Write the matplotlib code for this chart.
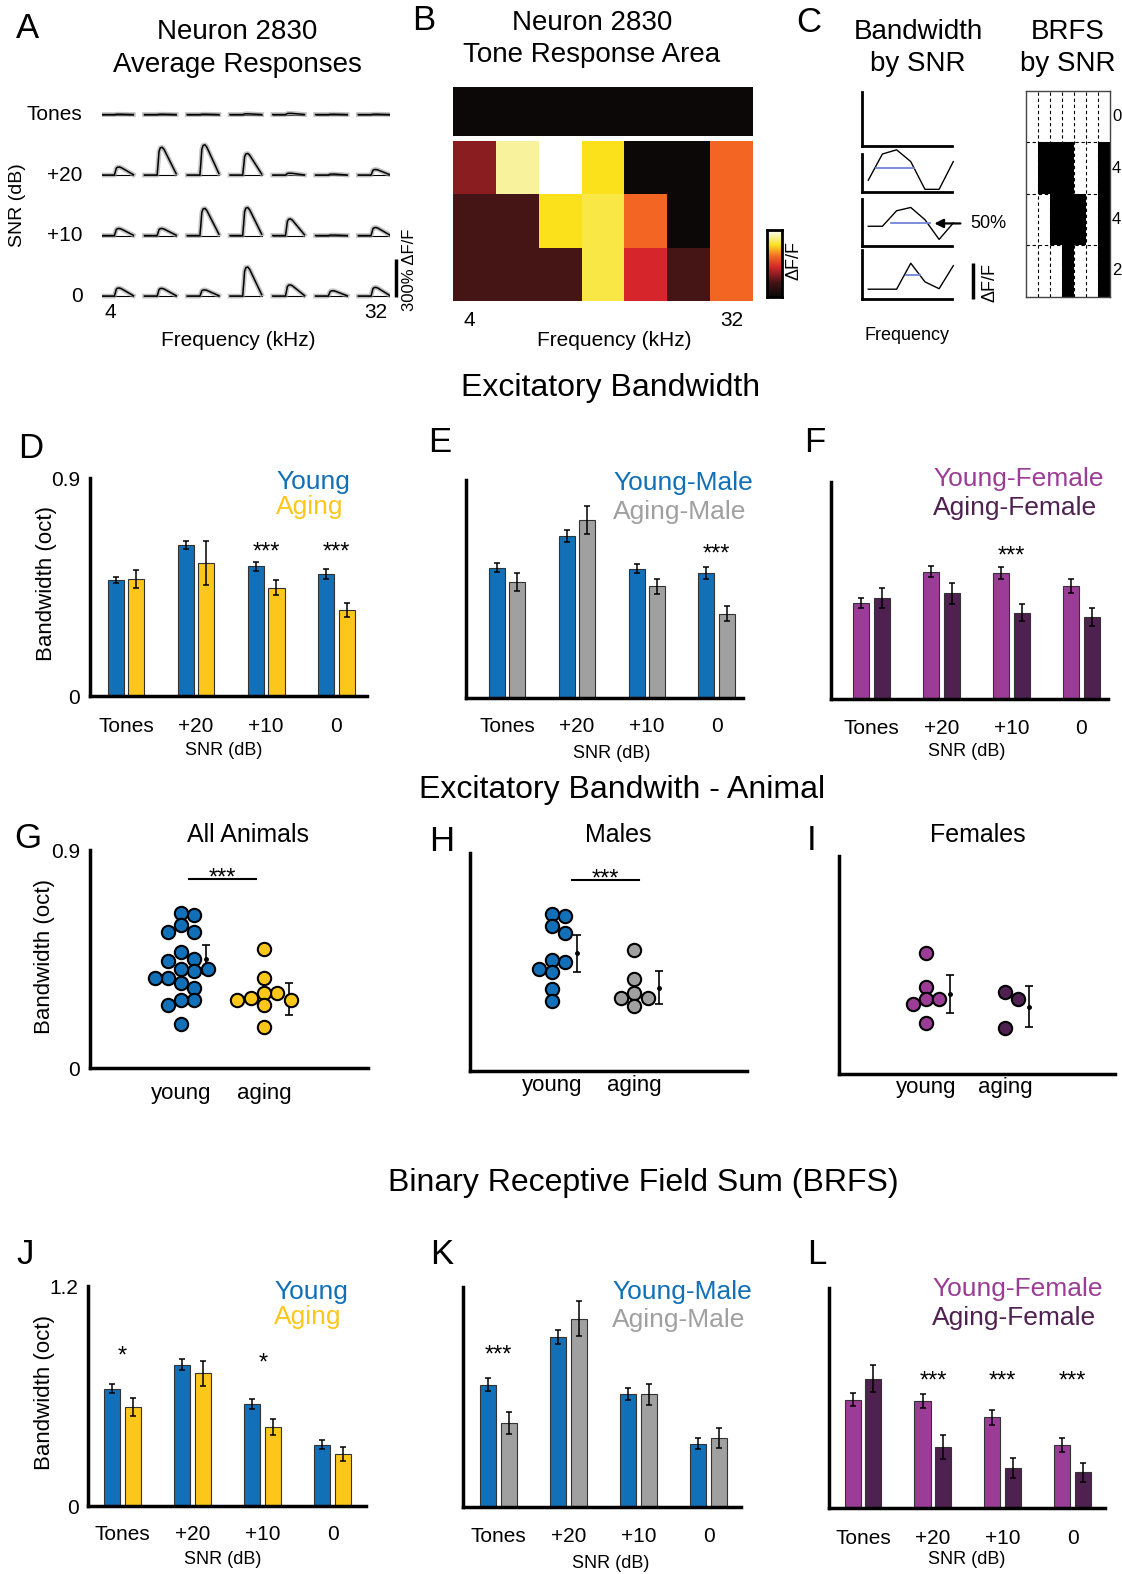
import numpy as np
import matplotlib
matplotlib.use("Agg")
from matplotlib import pyplot as plt
from matplotlib import transforms
from matplotlib.colors import LinearSegmentedColormap, ListedColormap
from matplotlib.lines import Line2D

plt.rcParams["font.family"] = ["Liberation Sans", "DejaVu Sans"]

# ---------------- data ----------------
snr_labels = ["Tones", "+20", "+10", "0"]

# A: peak of the average response (% dF/F), rows Tones/+20/+10/0, 7 frequencies
resp_peak = [
    [3, 3, 3, 6, 10, 3, 3],
    [65, 225, 245, 175, 15, 8, 45],
    [57, 57, 220, 227, 135, 4, 65],
    [65, 62, 50, 235, 90, 43, 70],
]
# shape of a response trace (time fraction, fraction of peak)
trace_t = [0, 0.4, 0.43, 0.46, 0.5, 0.56, 0.62, 1.0]
trace_shape = [0, 0, 0.4, 0.85, 0.98, 1.0, 0.92, 0.05]

# B: tone response area (normalised dF/F)
tra_tones = [0, 0, 0, 0, 0, 0, 0]
tra_snr = [
    [0.33, 0.9, 1.0, 0.78, 0.0, 0.0, 0.6],
    [0.22, 0.22, 0.78, 0.82, 0.6, 0.0, 0.6],
    [0.22, 0.22, 0.22, 0.82, 0.45, 0.22, 0.6],
]

# C: schematic tuning curves (+20, +10, 0) and 50% bandwidth lines
bw_curves = [
    [0.31, 1.0, 1.11, 0.8, 0.07, 0.07, 0.8],
    [0.42, 0.42, 0.75, 0.82, 0.56, 0.14, 0.49],
    [0.2, 0.2, 0.2, 0.73, 0.35, 0.21, 0.68],
]
bw_half = [(0.64, 0.52, 3.25), (0.48, 1.6, 4.35), (0.5, 2.64, 3.65)]
brfs_binary = [
    [0, 0, 0, 0, 0, 0, 0],
    [0, 1, 1, 1, 0, 0, 1],
    [0, 0, 1, 1, 1, 0, 1],
    [0, 0, 0, 1, 0, 0, 1],
]

# D-F: excitatory bandwidth (oct), mean and SEM
bw_young = [0.48, 0.622, 0.535, 0.505]
bw_young_err = [0.013, 0.017, 0.018, 0.02]
bw_aging = [0.483, 0.549, 0.447, 0.355]
bw_aging_err = [0.037, 0.09, 0.032, 0.029]
bw_ym = [0.537, 0.669, 0.534, 0.514]
bw_ym_err = [0.019, 0.024, 0.019, 0.025]
bw_am = [0.477, 0.734, 0.46, 0.348]
bw_am_err = [0.037, 0.058, 0.032, 0.032]
bw_yf = [0.398, 0.528, 0.521, 0.47]
bw_yf_err = [0.021, 0.024, 0.025, 0.029]
bw_af = [0.418, 0.437, 0.358, 0.339]
bw_af_err = [0.041, 0.043, 0.037, 0.037]

# G-I: bandwidth per animal
g_young = [0.63, 0.64, 0.59, 0.56, 0.56, 0.48, 0.44, 0.45, 0.41, 0.40,
           0.41, 0.37, 0.37, 0.35, 0.33, 0.28, 0.28, 0.26, 0.18]
g_aging = [0.49, 0.37, 0.31, 0.28, 0.28, 0.31, 0.29, 0.26, 0.17]
h_young = [0.64, 0.65, 0.60, 0.57, 0.45, 0.46, 0.41, 0.42, 0.34, 0.29]
h_aging = [0.50, 0.38, 0.30, 0.30, 0.32, 0.27]
i_young = [0.50, 0.36, 0.31, 0.31, 0.29, 0.21]
i_aging = [0.34, 0.31, 0.19]
g_mean, g_err = [0.449, 0.285], [0.06, 0.066]
h_mean, h_err = [0.486, 0.344], [0.077, 0.069]
i_mean, i_err = [0.33, 0.278], [0.077, 0.086]

# J-L: BRFS
br_young = [0.64, 0.771, 0.556, 0.335]
br_young_err = [0.025, 0.029, 0.025, 0.024]
br_aging = [0.54, 0.724, 0.433, 0.285]
br_aging_err = [0.051, 0.067, 0.044, 0.038]
br_ym = [0.667, 0.927, 0.618, 0.345]
br_ym_err = [0.035, 0.038, 0.033, 0.029]
br_am = [0.455, 1.027, 0.613, 0.375]
br_am_err = [0.06, 0.095, 0.056, 0.055]
br_yf = [0.591, 0.587, 0.496, 0.344]
br_yf_err = [0.035, 0.038, 0.04, 0.038]
br_af = [0.707, 0.336, 0.22, 0.196]
br_af_err = [0.076, 0.065, 0.053, 0.051]

BLUE = "#1170b8"
YELLOW = "#fcc71a"
GRAY = "#a0a0a0"
PURPLE = "#9b3d96"
DPURPLE = "#4f2150"

W, H = 1122, 1574
fig = plt.figure(figsize=(W / 100, H / 100), dpi=100)


def add_ax(x0, y0, x1, y1):
    """ Осі за піксельними координатами (зверху вниз) """
    return fig.add_axes([x0 / W, 1 - y1 / H, (x1 - x0) / W, (y1 - y0) / H])


def ftext(x, y, s, **kw):
    kw.setdefault("ha", "center")
    kw.setdefault("va", "center")
    return fig.text(x / W, 1 - y / H, s, **kw)


def xtext(ax, x, y, s, **kw):
    """ x у даних, y у пікселях полотна """
    tr = transforms.blended_transform_factory(ax.transData, fig.transFigure)
    return ax.text(x, 1 - y / H, s, transform=tr, ha="center", va="center",
                   clip_on=False, **kw)


def fline(x0, y0, x1, y1, **kw):
    fig.add_artist(Line2D([x0 / W, x1 / W], [1 - y0 / H, 1 - y1 / H],
                          transform=fig.transFigure, **kw))


def stars(ax, x, y, s):
    ax.annotate(s, (x, y), xytext=(0, -9.5), textcoords="offset points",
                ha="center", va="baseline", fontsize=17, annotation_clip=False)


def clean(ax, lw=2.5):
    ax.spines["top"].set_visible(False)
    ax.spines["right"].set_visible(False)
    ax.spines["left"].set_linewidth(lw)
    ax.spines["bottom"].set_linewidth(lw)
    ax.tick_params(length=0)


# panel letters
for s, x, y in [("A", 27, 29), ("B", 424, 21), ("C", 809, 22),
                ("D", 31, 449), ("E", 440, 443), ("F", 815, 443),
                ("G", 28, 838), ("H", 442, 842), ("I", 812, 840),
                ("J", 25, 1255), ("K", 442, 1255), ("L", 817, 1255)]:
    ftext(x, y, s, fontsize=25)

# ---------------- A ----------------
ax = add_ax(101.7, 100, 390, 300)
ax.set_xlim(0, 6.74)
ax.set_ylim(-32, 1588)
ax.axis("off")
row_gap = 490
tw = 0.74
for i, row in enumerate(resp_peak):
    base = row_gap * (len(resp_peak) - 1 - i)
    for k, amp in enumerate(row):
        t = k + np.array(trace_t) * tw
        y = base + amp * np.array(trace_shape)
        ax.plot([k, k + tw], [base, base], color="black", lw=0.8)
        ax.plot(t, y, color="#9a9a9a", lw=3.4, alpha=0.6)
        ax.plot(t, y, color="black", lw=1.1)
    ax.text(-0.45, base, snr_labels[i], ha="right", va="center", fontsize=15)
ax.plot([6.89, 6.89], [-10, 300], color="black", lw=2.5, clip_on=False,
        solid_capstyle="butt")
ax.text(7.19, 210, "300% ΔF/F", rotation=90, ha="center", va="center",
        fontsize=12, clip_on=False)
xtext(ax, 0.19, 313, "4", fontsize=15)
xtext(ax, 6.4, 313, "32", fontsize=15)
ftext(238, 341, "Frequency (kHz)", fontsize=15)
ftext(17, 205, "SNR (dB)", rotation=90, fontsize=14)
ftext(237, 32, "Neuron 2830", fontsize=20)
ftext(237, 65, "Average Responses", fontsize=20)

# ---------------- B ----------------
cmap = LinearSegmentedColormap.from_list("tra", [
    (0.0, "#0c0808"), (0.22, "#451515"), (0.45, "#d7262b"),
    (0.6, "#f26522"), (0.78, "#fae11c"), (0.9, "#f8f29b"), (1.0, "#ffffff")])
ax = add_ax(452.7, 87.3, 753.3, 301)
xe = np.arange(len(tra_tones) + 1)
ax.pcolormesh(xe, np.arange(len(tra_snr) + 1), np.array(tra_snr)[::-1],
              cmap=cmap, vmin=0, vmax=1)
ax.pcolormesh(xe, [3.09, 4.0], np.array([tra_tones]), cmap=cmap, vmin=0, vmax=1)
ax.set_xlim(0, 7)
ax.set_ylim(0, 4)
ax.axis("off")
xtext(ax, 0.38, 320, "4", fontsize=15)
xtext(ax, 6.5, 320, "32", fontsize=15)
ftext(614, 340, "Frequency (kHz)", fontsize=15)
ftext(592, 23, "Neuron 2830", fontsize=20)
ftext(592, 55, "Tone Response Area", fontsize=20)
cax = add_ax(766.7, 230, 781.7, 296.7)
cax.imshow(np.linspace(0, 1, 100)[:, None], aspect="auto", cmap=cmap,
           origin="lower")
cax.set_xticks([])
cax.set_yticks([])
for sp in cax.spines.values():
    sp.set_linewidth(2)
ftext(794, 260, "ΔF/F", rotation=90, fontsize=13)

# ---------------- C ----------------
ftext(918, 32, "Bandwidth", fontsize=20)
ftext(918, 64, "by SNR", fontsize=20)
ftext(1068, 32, "BRFS", fontsize=20)
ftext(1068, 64, "by SNR", fontsize=20)
rows_px = [(92, 146), (154, 192), (199, 246), (250, 299)]
for i, (top, bot) in enumerate(rows_px):
    ax = add_ax(862.3, top, 952.3, bot)
    clean(ax, lw=2)
    ax.set_xticks([])
    ax.set_yticks([])
    ax.set_xlim(-0.42, 5.93)
    ax.set_ylim(0, 1)
    if i == 0:
        continue
    vals = bw_curves[i - 1]
    ax.plot(range(len(vals)), vals, color="black", lw=1, clip_on=False)
    lev, a, b = bw_half[i - 1]
    ax.plot([a, b], [lev, lev], color="#6f85d6", lw=1.3)
    if i == 2:
        ax.annotate("", xy=(b + 0.12, lev), xytext=(6.7, lev),
                    arrowprops=dict(arrowstyle="-|>", color="black", lw=1.6,
                                    mutation_scale=13),
                    annotation_clip=False)
ftext(988, 223, "50%", fontsize=13)
fline(973.3, 263, 973.3, 299, color="black", lw=2.5, solid_capstyle="butt")
ftext(990, 282, "ΔF/F", rotation=90, fontsize=13)
ftext(907, 335, "Frequency", fontsize=13)

ax = add_ax(1025.7, 91, 1110, 296.7)
nb = len(brfs_binary)
ax.pcolormesh(np.arange(8), np.arange(nb + 1), np.array(brfs_binary)[::-1],
              cmap=ListedColormap(["white", "black"]), vmin=0, vmax=1)
for k in range(1, 7):
    ax.axvline(k, color="black", lw=0.8, ls=(0, (3, 2.5)))
for j in range(1, nb):
    ax.axhline(j, color="black", lw=0.8, ls=(0, (3, 2.5)))
ax.set_xlim(0, 7)
ax.set_ylim(0, nb)
ax.set_xticks([])
ax.set_yticks([])
for sp in ax.spines.values():
    sp.set_linewidth(1)
    sp.set_color("#444444")
for i, row in enumerate(brfs_binary):
    ftext(1112, 91 + (i + 0.5) * 51.4, str(sum(row)), ha="left", fontsize=12)

# ---------------- section titles ----------------
ftext(611, 388, "Excitatory Bandwidth", fontsize=23)
ftext(622, 790, "Excitatory Bandwith - Animal", fontsize=23)
ftext(643.5, 1183, "Binary Receptive Field Sum (BRFS)", fontsize=23)


# ---------------- bar panels ----------------
def bar_panel(rect, xlim, ytop, y1, e1, y2, e2, c1, c2, names, leg_xy,
              star_s, star_y, tick_y, snr_xy, ytl=None):
    ax = add_ax(*rect)
    clean(ax)
    x = np.arange(len(snr_labels))
    off, bw = 0.148, 0.229
    ax.bar(x - off, y1, bw, color=c1, edgecolor="#333333", lw=0.8, zorder=2)
    ax.bar(x + off, y2, bw, color=c2, edgecolor="#333333", lw=0.8, zorder=2)
    ax.errorbar(x - off, y1, yerr=e1, fmt="none", ecolor="black",
                elinewidth=1.1, capsize=2.5, capthick=1.1, zorder=3)
    ax.errorbar(x + off, y2, yerr=e2, fmt="none", ecolor="black",
                elinewidth=1.1, capsize=2.5, capthick=1.1, zorder=3)
    ax.set_xlim(*xlim)
    ax.set_ylim(0, ytop)
    ax.set_xticks([])
    if ytl:
        ax.set_yticks([0, ytop])
        ax.set_yticklabels(ytl, fontsize=15)
        ax.tick_params(axis="y", pad=7)
    else:
        ax.set_yticks([])
    for k, lab in enumerate(snr_labels):
        xtext(ax, k, tick_y, lab, fontsize=15)
        if star_s[k]:
            stars(ax, k, star_y[k], star_s[k])
    ftext(snr_xy[0], snr_xy[1], "SNR (dB)", fontsize=13)
    ftext(leg_xy[0], leg_xy[1], names[0], color=c1, ha="left", fontsize=19)
    ftext(leg_xy[0], leg_xy[2], names[1], color=c2, ha="left", fontsize=19)
    return ax


bar_panel((90, 478, 367, 696), (-0.514, 3.44), 0.9, bw_young, bw_young_err,
          bw_aging, bw_aging_err, BLUE, YELLOW, ["Young", "Aging"],
          (276, 482, 507), ["", "", "***", "***"], [0, 0, 0.62, 0.62],
          727, (224, 750), ytl=["0", "0.9"])
bar_panel((465.7, 480, 742.7, 697.7), (-0.59, 3.37), 0.9, bw_ym, bw_ym_err,
          bw_am, bw_am_err, BLUE, GRAY, ["Young-Male", "Aging-Male"],
          (613, 483, 512), ["", "", "", "***"], [0, 0, 0, 0.62],
          727, (612, 753))
bar_panel((831, 481.7, 1108, 699), (-0.574, 3.38), 0.9, bw_yf, bw_yf_err,
          bw_af, bw_af_err, PURPLE, DPURPLE, ["Young-Female", "Aging-Female"],
          (933, 479, 508), ["", "", "***", ""], [0, 0, 0.62, 0],
          728, (967, 752))
bar_panel((88.3, 1286, 365.7, 1506), (-0.49, 3.47), 1.2, br_young, br_young_err,
          br_aging, br_aging_err, BLUE, YELLOW, ["Young", "Aging"],
          (274, 1292, 1317), ["*", "", "*", ""], [0.855, 0, 0.815, 0],
          1535, (223, 1560), ytl=["0", "1.2"])
bar_panel((463.3, 1287, 740.7, 1506.7), (-0.503, 3.46), 1.2, br_ym, br_ym_err,
          br_am, br_am_err, BLUE, GRAY, ["Young-Male", "Aging-Male"],
          (612, 1292, 1320), ["***", "", "", ""], [0.864, 0, 0, 0],
          1536, (611, 1563))
bar_panel((829.3, 1288, 1105, 1508.3), (-0.48, 3.46), 1.2, br_yf, br_yf_err,
          br_af, br_af_err, PURPLE, DPURPLE, ["Young-Female", "Aging-Female"],
          (932, 1289, 1318), ["", "***", "***", "***"], [0, 0.727, 0.727, 0.727],
          1538, (967, 1560))

ftext(46.7, 583, "Bandwidth (oct)", rotation=90, fontsize=16)
ftext(45, 1393, "Bandwidth (oct)", rotation=90, fontsize=16)
ftext(45, 957, "Bandwidth (oct)", rotation=90, fontsize=16)


# ---------------- dot panels ----------------
def swarm(values, dx, dy):
    """ Простий beeswarm: зсуви по x без перекриття кружечків """
    values = np.asarray(values, dtype=float)
    offs = np.zeros(len(values))
    placed = []
    cand = sorted([0.0] + [s * k * dx * 0.5 for k in range(1, 12)
                           for s in (1, -1)], key=abs)
    for i in np.argsort(values)[::-1]:
        for c in cand:
            if all(((c - px) / dx) ** 2 + ((values[i] - py) / dy) ** 2 >= 0.8
                   for px, py in placed):
                break
        offs[i] = c
        placed.append((c, values[i]))
    return offs


def dot_panel(rect, xlim, ya, aa, mean, err, c1, c2, title, title_xy,
              lab_y, sig=None, ytl=None):
    ax = add_ax(*rect)
    clean(ax)
    ax.set_xlim(*xlim)
    ax.set_ylim(0, 0.9)
    ppu_x = (rect[2] - rect[0]) / (xlim[1] - xlim[0])
    ppu_y = (rect[3] - rect[1]) / 0.9
    d = 13.3
    for k, (vals, c) in enumerate([(ya, c1), (aa, c2)]):
        xs = k + swarm(vals, d / ppu_x, d / ppu_y)
        ax.scatter(xs, vals, s=92, c=c, edgecolors="black", linewidths=1.5,
                   zorder=3, clip_on=False)
        ax.errorbar(k + 0.3, mean[k], yerr=err[k], fmt="o", ms=2.5,
                    color="black", elinewidth=1.2, capsize=3, capthick=1.2)
    ax.set_xticks([])
    if ytl:
        ax.set_yticks([0, 0.9])
        ax.set_yticklabels(ytl, fontsize=15)
        ax.tick_params(axis="y", pad=7)
    else:
        ax.set_yticks([])
    if sig:
        ax.plot(sig[:2], [sig[2], sig[2]], color="black", lw=1.5)
        stars(ax, (sig[0] + sig[1]) / 2, sig[2] + 0.03, "***")
    xtext(ax, 0, lab_y, "young", fontsize=16)
    xtext(ax, 1, lab_y, "aging", fontsize=16)
    ftext(title_xy[0], title_xy[1], title, fontsize=18)


dot_panel((90, 850, 368.3, 1068), (-1.1, 2.26), g_young, g_aging, g_mean, g_err,
          BLUE, YELLOW, "All Animals", (248, 835), 1093,
          sig=(0.09, 0.9, 0.78), ytl=["0", "0.9"])
dot_panel((470, 853, 746.7, 1071), (-1.0, 2.37), h_young, h_aging, h_mean, h_err,
          BLUE, GRAY, "Males", (618, 835), 1086, sig=(0.24, 1.06, 0.79))
dot_panel((839, 856, 1115, 1074), (-1.1, 2.39), i_young, i_aging, i_mean, i_err,
          PURPLE, DPURPLE, "Females", (978, 835), 1087)

fig.savefig("out.png", dpi=100)
